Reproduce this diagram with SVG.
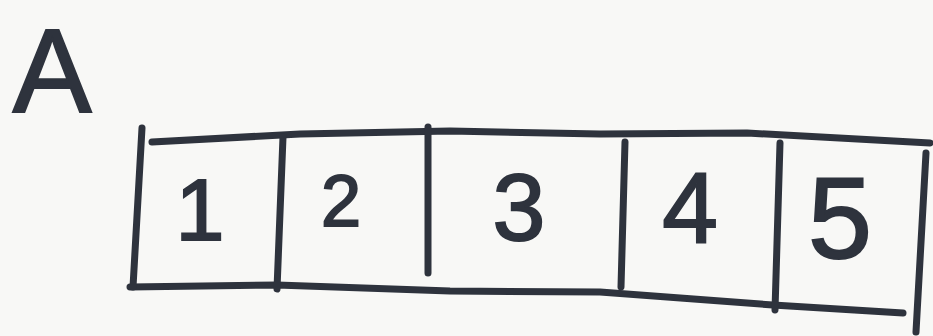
<svg xmlns="http://www.w3.org/2000/svg" width="933" height="336" viewBox="0 0 933 336">
  <style>
    .ink { fill: none; stroke: #2e333d; stroke-width: 7; stroke-linecap: round; stroke-linejoin: round; }
    .lbl { font-family: "Liberation Sans", Arial, sans-serif; fill: #2e333d; stroke: #2e333d; stroke-width: 2; text-anchor: middle; }
  </style>
  <rect x="0" y="0" width="933" height="336" fill="#f8f8f6"/>
  <g id="title">
    <text class="lbl" x="52" y="112" font-size="118">A</text>
  </g>
  <g id="connectors">
    <path class="ink" d="M152,142 L300,134 L450,131 L600,134 L747,133 L930,143"/>
    <path class="ink" d="M130,287 L277,285 L450,291 L600,292 L773,305 L903,313"/>
    <path class="ink" d="M142,128 L133,287"/>
    <path class="ink" d="M283,137 L277,289"/>
    <path class="ink" d="M428,127 L428,273"/>
    <path class="ink" d="M625,142 L621,287"/>
    <path class="ink" d="M780,143 L775,310"/>
    <path class="ink" d="M926,153 L916,332"/>
  </g>
  <g id="cell1"><text class="lbl" x="200" y="240" font-size="88">1</text></g>
  <g id="cell2"><text class="lbl" x="341" y="226" font-size="72">2</text></g>
  <g id="cell3"><text class="lbl" x="519" y="240" font-size="95">3</text></g>
  <g id="cell4"><text class="lbl" x="690" y="243" font-size="100">4</text></g>
  <g id="cell5"><text class="lbl" x="840" y="258" font-size="115">5</text></g>
</svg>
